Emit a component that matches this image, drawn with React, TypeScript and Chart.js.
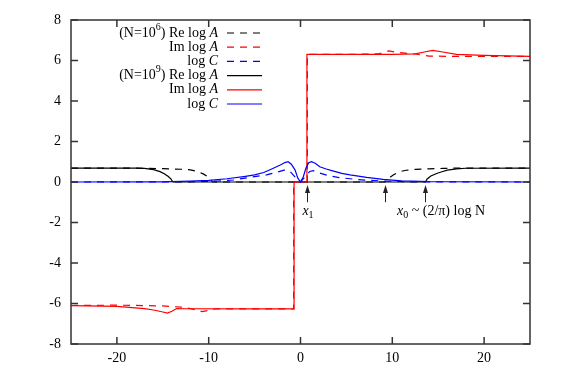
import React, { useEffect, useRef } from "react";
import { Chart, registerables } from "chart.js";
Chart.register(...registerables);

// ---- data ----
// N = 10^6
const reA6X = [-25, -17, -15, -13, -12, -11.3, -10.6, -10.1, -9.8, -9.6, 9.2, 9.5, 9.8, 10.1, 10.8, 11.5, 12.5, 14, 15.5, 17, 25];
const reA6Y = [0.69, 0.68, 0.66, 0.63, 0.6, 0.53, 0.4, 0.26, 0.14, 0, 0, 0.14, 0.25, 0.35, 0.51, 0.58, 0.62, 0.65, 0.67, 0.69, 0.69];
const imA6X = [-25, -20, -15, -13, -12, -11.3, -10.7, -10, -9.3, -5, -0.75, -0.75, 0.75, 0.75, 5, 8.5, 9.6, 10.5, 12.5, 14, 17, 25];
const imA6Y = [-6.1, -6.08, -6.12, -6.18, -6.25, -6.33, -6.4, -6.34, -6.27, -6.27, -6.27, 0, 0, 6.3, 6.3, 6.33, 6.47, 6.4, 6.32, 6.22, 6.2, 6.2];
const logC6X = [-25, -12, -9, -7.3, -5.5, -3.7, -2.6, -1.7, -1.1, -0.5, 0, 0.5, 1.0, 1.4, 2, 3.2, 4.2, 5.4, 7, 9, 12, 25];
const logC6Y = [0, 0.01, 0.05, 0.1, 0.23, 0.35, 0.48, 0.6, 0.5, 0.2, 0, 0.25, 0.52, 0.56, 0.45, 0.3, 0.22, 0.16, 0.09, 0.05, 0.01, 0];
// N = 10^9
const reA9X = [-25, -18, -17, -16, -15.3, -14.8, -14.4, -14.1, -13.9, 13.6, 13.8, 14.2, 14.9, 15.5, 16, 17, 18, 25];
const reA9Y = [0.69, 0.69, 0.67, 0.61, 0.51, 0.4, 0.27, 0.14, 0, 0, 0.15, 0.3, 0.43, 0.52, 0.59, 0.65, 0.68, 0.69];
const imA9X = [-25, -20, -17, -16, -15, -14.5, -14, -13.5, -12.5, -5, -0.7, -0.7, 0.7, 0.7, 5, 10, 12.5, 13.5, 14.4, 15.5, 17, 20, 25];
const imA9Y = [-6.1, -6.14, -6.25, -6.32, -6.42, -6.47, -6.38, -6.25, -6.26, -6.27, -6.27, 0, 0, 6.3, 6.3, 6.3, 6.33, 6.42, 6.5, 6.42, 6.3, 6.25, 6.2];
const logC9X = [-25, -15, -12, -10, -8, -6, -5, -4, -3.2, -2.2, -1.7, -1.35, -1, -0.6, -0.3, 0, 0.3, 0.6, 0.9, 1.2, 1.6, 2.1, 2.8, 3.6, 4.5, 5.4, 7.2, 9, 11, 14, 25];
const logC9Y = [0, 0.01, 0.04, 0.08, 0.16, 0.28, 0.35, 0.47, 0.63, 0.84, 0.96, 1.0, 0.88, 0.6, 0.2, 0, 0.25, 0.7, 0.95, 1.0, 0.93, 0.75, 0.64, 0.54, 0.43, 0.35, 0.23, 0.13, 0.06, 0.02, 0];

const xTicks = [-20, -10, 0, 10, 20];
const yTicks = [-8, -6, -4, -2, 0, 2, 4, 6, 8];
const arrowXs = [0.75, 9.2, 13.6];

const FONT = "'Liberation Serif', 'Times New Roman', serif";

type Seg = { t: string; it?: boolean; sup?: boolean; sub?: boolean };

const legendRows: { segs: Seg[]; color: string; dash: number[] }[] = [
  { segs: [{ t: "(N=10" }, { t: "6", sup: true }, { t: ") Re log " }, { t: "A", it: true }], color: "#000000", dash: [7, 6] },
  { segs: [{ t: "Im log " }, { t: "A", it: true }], color: "#ff0000", dash: [7, 6] },
  { segs: [{ t: "log " }, { t: "C", it: true }], color: "#0000ff", dash: [7, 6] },
  { segs: [{ t: "(N=10" }, { t: "9", sup: true }, { t: ") Re log " }, { t: "A", it: true }], color: "#000000", dash: [] },
  { segs: [{ t: "Im log " }, { t: "A", it: true }], color: "#ff0000", dash: [] },
  { segs: [{ t: "log " }, { t: "C", it: true }], color: "#0000ff", dash: [] },
];

function segFont(s: Seg) {
  const size = s.sup || s.sub ? 10 : 14;
  return `${s.it ? "italic " : ""}${size}px ${FONT}`;
}

function drawRich(ctx: CanvasRenderingContext2D, segs: Seg[], x: number, y: number, align: "left" | "right") {
  ctx.save();
  ctx.textBaseline = "middle";
  ctx.textAlign = "left";
  let total = 0;
  for (const s of segs) {
    ctx.font = segFont(s);
    total += ctx.measureText(s.t).width;
  }
  let cx = align === "right" ? x - total : x;
  for (const s of segs) {
    ctx.font = segFont(s);
    const dy = s.sup ? -6 : s.sub ? 4 : 0;
    ctx.fillText(s.t, cx, y + dy);
    cx += ctx.measureText(s.t).width;
  }
  ctx.restore();
}

const pts = (xs: number[], ys: number[]) => xs.map((x, i) => ({ x, y: ys[i] }));

const decorPlugin = {
  id: "decor",
  afterDraw(chart: any) {
    const ctx: CanvasRenderingContext2D = chart.ctx;
    const { left, right, top, bottom } = chart.chartArea;
    const xs = chart.scales.x;
    const ys = chart.scales.y;
    ctx.save();
    // frame
    ctx.strokeStyle = "#333";
    ctx.lineWidth = 1.5;
    ctx.setLineDash([]);
    ctx.strokeRect(left, top, right - left, bottom - top);
    // inner ticks
    ctx.beginPath();
    for (const v of xTicks) {
      const px = xs.getPixelForValue(v);
      ctx.moveTo(px, bottom);
      ctx.lineTo(px, bottom - 7);
      ctx.moveTo(px, top);
      ctx.lineTo(px, top + 7);
    }
    for (const v of yTicks) {
      const py = ys.getPixelForValue(v);
      ctx.moveTo(left, py);
      ctx.lineTo(left + 7, py);
      ctx.moveTo(right, py);
      ctx.lineTo(right - 7, py);
    }
    ctx.stroke();

    // arrows
    ctx.strokeStyle = "#222";
    ctx.fillStyle = "#222";
    ctx.lineWidth = 1;
    for (const ax of arrowXs) {
      const px = Math.round(xs.getPixelForValue(ax)) + 0.5;
      const y0 = ys.getPixelForValue(-1.0);
      const y1 = ys.getPixelForValue(-0.15);
      ctx.beginPath();
      ctx.moveTo(px, y0);
      ctx.lineTo(px, y1 + 6);
      ctx.stroke();
      ctx.beginPath();
      ctx.moveTo(px, y1);
      ctx.lineTo(px - 2.5, y1 + 8);
      ctx.lineTo(px + 2.5, y1 + 8);
      ctx.closePath();
      ctx.fill();
    }

    // annotation labels
    ctx.fillStyle = "#000";
    const x1px = xs.getPixelForValue(arrowXs[0]);
    drawRich(ctx, [{ t: "x", it: true }, { t: "1", sub: true }], x1px - 5, 211, "left");
    const x0px = xs.getPixelForValue(arrowXs[1]);
    drawRich(ctx, [{ t: "x", it: true }, { t: "0", sub: true }, { t: " ~ (2/\u03C0) log N" }], x0px + 12, 211, "left");

    // legend
    const rowY0 = 33;
    const rowStep = 14.2;
    legendRows.forEach((r, i) => {
      const y = rowY0 + i * rowStep;
      ctx.fillStyle = "#000";
      drawRich(ctx, r.segs, 218, y, "right");
      ctx.beginPath();
      ctx.strokeStyle = r.color;
      ctx.lineWidth = 1.2;
      ctx.setLineDash(r.dash);
      ctx.moveTo(227, y);
      ctx.lineTo(262, y);
      ctx.stroke();
    });
    ctx.restore();
  },
};

export default function App() {
  const ref = useRef<HTMLCanvasElement>(null);
  useEffect(() => {
    if (!ref.current) return;
    const mk = (xs: number[], ys: number[], color: string, dashed: boolean, order: number) => ({
      data: pts(xs, ys),
      borderColor: color,
      backgroundColor: color,
      borderWidth: 1.2,
      borderDash: dashed ? [7, 6] : [],
      pointRadius: 0,
      tension: 0,
      fill: false,
      order,
    });
    const chart = new Chart(ref.current, {
      type: "line",
      data: {
        datasets: [
          mk(reA6X, reA6Y, "#000000", true, 5),
          mk(imA6X, imA6Y, "#ff0000", true, 4),
          mk(logC6X, logC6Y, "#0000ff", true, 3),
          mk(reA9X, reA9Y, "#000000", false, 2),
          mk(imA9X, imA9Y, "#ff0000", false, 1),
          mk(logC9X, logC9Y, "#0000ff", false, 0),
        ] as any,
      },
      options: {
        animation: false,
        responsive: false,
        layout: { padding: { top: 20, right: 49, left: 0, bottom: 0 } },
        plugins: { legend: { display: false }, tooltip: { enabled: false } },
        scales: {
          x: {
            type: "linear",
            min: -25,
            max: 25,
            afterBuildTicks: (s: any) => {
              s.ticks = xTicks.map((v) => ({ value: v }));
            },
            afterFit: (s: any) => {
              s.height = 35;
            },
            grid: { display: false, drawTicks: false },
            border: { display: false },
            ticks: { color: "#000", padding: 6, font: { family: FONT, size: 14 }, autoSkip: false, maxRotation: 0 },
          },
          y: {
            type: "linear",
            min: -8,
            max: 8,
            afterBuildTicks: (s: any) => {
              s.ticks = yTicks.map((v) => ({ value: v }));
            },
            afterFit: (s: any) => {
              s.width = 71;
            },
            grid: { display: false, drawTicks: false },
            border: { display: false },
            ticks: { color: "#000", padding: 10, font: { family: FONT, size: 14 } },
          },
        },
      } as any,
      plugins: [decorPlugin],
    });
    return () => chart.destroy();
  }, []);
  return (
    <div style={{ position: "absolute", left: 0, top: 0, width: 579, height: 379, background: "#fff" }}>
      <canvas ref={ref} width={579} height={379} style={{ display: "block" }} />
    </div>
  );
}
